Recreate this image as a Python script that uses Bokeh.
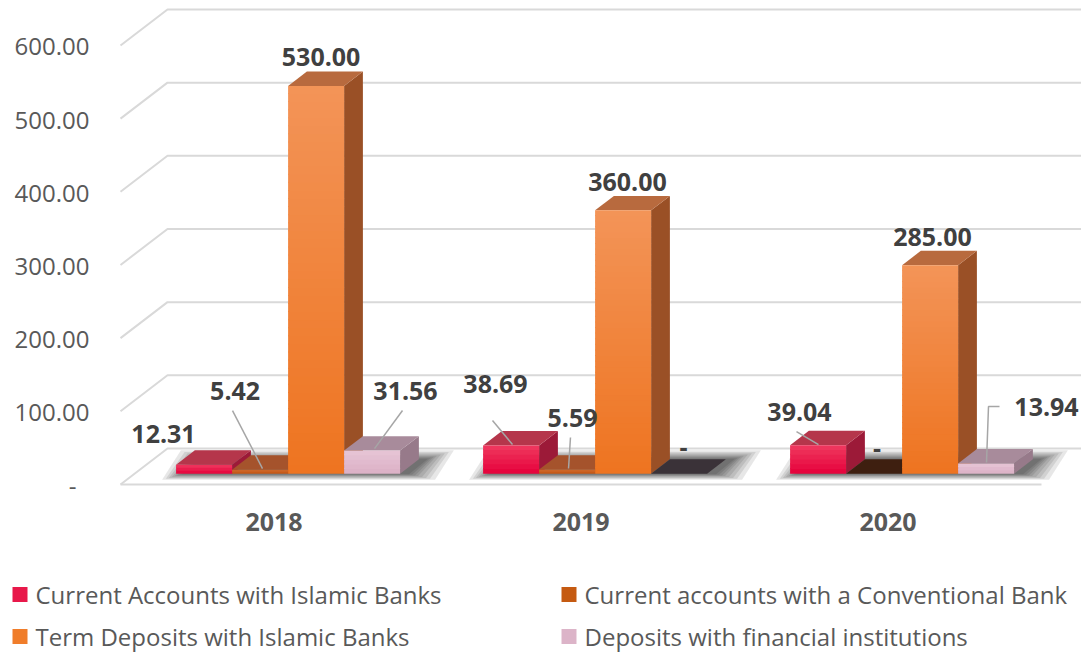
import numpy as np
from bokeh.plotting import figure
from bokeh.models import Range1d
from bokeh.core.properties import value
from bokeh.embed import file_html
from bokeh.resources import INLINE

# ---------------- data ----------------
years = ["2018", "2019", "2020"]
series_names = [
    "Current Accounts with Islamic Banks",
    "Current accounts with a Conventional Bank",
    "Term Deposits with Islamic Banks",
    "Deposits with financial institutions",
]
current_islamic = [12.31, 38.69, 39.04]
current_conventional = [5.42, 5.59, 0.0]
term_islamic = [530.00, 360.00, 285.00]
financial_inst = [31.56, 0.0, 13.94]
y_ticks = [0, 100, 200, 300, 400, 500, 600]

values = [current_islamic, current_conventional, term_islamic, financial_inst]

# ---------------- styles ----------------
styles = [
    dict(ftop="#f03a60", fbot="#e5003a", top="#b5364b", side="#9c1a38", zero="#3d1f24", key="#e8184a"),
    dict(ftop="#cf6a2e", fbot="#c45510", top="#a5532c", side="#8a3f14", zero="#3e1f10", key="#c55a11"),
    dict(ftop="#f39458", fbot="#ee7420", top="#b86a3e", side="#9a5026", zero="#3e2616", key="#f07d2a"),
    dict(ftop="#e7c5d6", fbot="#dbb0c5", top="#a88b9b", side="#977a8a", zero="#3a3238", key="#dcb4c8"),
]
FONT = value("Open Sans")
GRID_COLOR = "#d9d9d9"
TEXT_COLOR = "#595959"
LABEL_COLOR = "#404040"

# ---------------- geometry (pixel layout) ----------------
W, H = 1081, 654
PXX = 307.0        # px per category
PXY = 0.7317       # px per value unit
ORIGIN_X = 273.5   # canvas px of first category (front plane)
ORIGIN_Y = 484.0   # canvas px of value 0 (front plane)
DEPTH_X = 47 / PXX
DEPTH_Y = 36 / PXY
F0, F1 = 0.3, 0.7
BW = 56 / PXX


def dpx(dx, dy):
    """screen-pixel offset -> data offset"""
    return dx / PXX, -dy / PXY


def scr(sx, sy):
    """canvas pixel -> data coordinate"""
    return (sx - ORIGIN_X) / PXX, (ORIGIN_Y - sy) / PXY


p = figure(width=W, height=H, output_backend="svg", toolbar_location=None,
           x_range=Range1d(-ORIGIN_X / PXX, (W - ORIGIN_X) / PXX),
           y_range=Range1d(-(H - ORIGIN_Y) / PXY, ORIGIN_Y / PXY),
           x_axis_type=None, y_axis_type=None, min_border=0,
           title=None)
p.grid.visible = False
p.outline_line_color = None
p.background_fill_color = "white"
p.border_fill_color = "white"

ncat = len(years)
xl_floor, xr_floor = -0.5, ncat - 0.5

# ---------------- walls / gridlines ----------------
gx, gy = [], []
for t in y_ticks:
    gx.append([xl_floor, xl_floor + DEPTH_X, xr_floor + DEPTH_X])
    gy.append([t, t + DEPTH_Y, t + DEPTH_Y])
gx.append([xl_floor, xr_floor])
gy.append([0, 0])
p.multi_line(gx, gy, line_color=GRID_COLOR, line_width=2)

# ---------------- shadows ----------------
shx, shy = [], []
for i in range(ncat):
    xl = i - 2 * BW + F0 * DEPTH_X
    xr = i + 2 * BW + F0 * DEPTH_X
    yb = F0 * DEPTH_Y
    ddx, ddy = (F1 - F0) * DEPTH_X, (F1 - F0) * DEPTH_Y
    for e in [28, 23, 19, 15, 11, 8, 5, 2]:
        ex, _ = dpx(e, 0)
        exl, _ = dpx(e * 0.75, 0)
        sh, _ = dpx(7, 0)
        _, ey_f = dpx(0, e * 0.22)
        _, ey_b = dpx(0, -e * 0.32)
        shx.append([xl - exl + sh, xr + ex + sh, xr + ddx + ex + sh, xl + ddx - exl + sh])
        shy.append([yb + ey_f, yb + ey_f, yb + ddy + ey_b, yb + ddy + ey_b])
p.patches(shx, shy, fill_color="black", fill_alpha=0.095, line_color=None)


# ---------------- bars ----------------
def mix(c1, c2, t):
    a = np.array([int(c1[i:i + 2], 16) for i in (1, 3, 5)], float)
    b = np.array([int(c2[i:i + 2], 16) for i in (1, 3, 5)], float)
    c = a + (b - a) * t
    return "#%02x%02x%02x" % tuple(int(round(v)) for v in c)


NS = 48
overlap = dpx(0, -1.0)[1]
fx, fy, fc = [], [], []
for i in range(ncat):
    for k in range(len(values)):
        v = values[k][i]
        st = styles[k]
        xl = i + (k - 2) * BW + F0 * DEPTH_X
        xr = xl + BW
        yb = F0 * DEPTH_Y
        yt = yb + v
        ddx, ddy = (F1 - F0) * DEPTH_X, (F1 - F0) * DEPTH_Y
        if v <= 0:
            fx.append([xl, xr, xr + ddx, xl + ddx])
            fy.append([yb, yb, yb + ddy, yb + ddy])
            fc.append(st["zero"])
            continue
        # side
        fx.append([xr, xr + ddx, xr + ddx, xr])
        fy.append([yb, yb + ddy, yt + ddy, yt])
        fc.append(st["side"])
        # top
        fx.append([xl, xr, xr + ddx, xl + ddx])
        fy.append([yt, yt, yt + ddy, yt + ddy])
        fc.append(st["top"])
        # front with vertical gradient (top-down so each strip overlaps the one below)
        ns = max(2, min(NS, int(v / 8) + 2))
        for j in range(ns):
            b0 = yb + v * j / ns
            b1 = yb + v * (j + 1) / ns
            if j < ns - 1:
                b1 = min(b1 + overlap, yt)
            fx.append([xl, xr, xr, xl])
            fy.append([b0, b0, b1, b1])
            fc.append(mix(st["fbot"], st["ftop"], (j + 0.5) / ns))
p.patches(fx, fy, fill_color=fc, line_color=None)

# ---------------- data labels & leader lines ----------------
label_off = {
    (0, 0): (-40.6, -30.7), (0, 1): (-25, -79), (0, 2): (5, -28.4), (0, 3): (33.4, -60),
    (1, 0): (-15.6, -61), (1, 1): (5.4, -52), (1, 2): (4.4, -28), (1, 3): (4.4, -27),
    (2, 0): (-18.6, -33), (2, 1): (3, -26), (2, 2): (2.4, -27.7), (2, 3): (60.4, -56.5),
}
leaders = {
    (0, 1): [(-27.6, -59.2), (2.4, -1.2)],
    (0, 3): [(30.4, -40.1), (2.4, -2)],
    (1, 0): [(-18.6, -24.9), (1.4, -0.9)],
    (1, 1): [(3.4, -32.1), (1.4, -1.1)],
    (2, 0): [(-21.6, -13.6), (0.4, -0.6)],
    (2, 3): [(13.4, -57), (2.4, -57), (0.4, -1)],
}

lx, ly, lt = [], [], []
ldx, ldy = [], []
for i in range(ncat):
    for k in range(len(values)):
        v = values[k][i]
        cx = i + (k - 1.5) * BW + F0 * DEPTH_X
        cy = v + F0 * DEPTH_Y
        ox, oy = dpx(*label_off[(i, k)])
        lx.append(cx + ox)
        ly.append(cy + oy)
        lt.append("-" if v == 0 else f"{v:,.2f}")
        if (i, k) in leaders:
            pts = [dpx(a, b) for a, b in leaders[(i, k)]]
            ldx.append([cx + a for a, b in pts])
            ldy.append([cy + b for a, b in pts])

p.multi_line(ldx, ldy, line_color="#a6a6a6", line_width=1.5)
p.text(lx, ly, text=lt, text_font=FONT, text_font_size="25px", text_font_style="bold",
       text_color=LABEL_COLOR, text_align="center", text_baseline="middle")

# ---------------- value axis labels (front plane) ----------------
tx = [xl_floor + dpx(-44 if t == 0 else -31, 0)[0] for t in y_ticks]
ty = [t + dpx(0, 1.5)[1] for t in y_ticks]
tt = ["-" if t == 0 else f"{t:.2f}" for t in y_ticks]
p.text(tx, ty, text=tt, text_font=FONT, text_font_size="24px", text_color=TEXT_COLOR,
       text_align="right", text_baseline="middle")

# ---------------- category labels ----------------
cx_ = list(range(ncat))
cy_ = [dpx(0, 37)[1]] * ncat
p.text(cx_, cy_, text=years, text_font=FONT, text_font_size="25px", text_font_style="bold",
       text_color=TEXT_COLOR, text_align="center", text_baseline="middle")

# ---------------- legend ----------------
key_pos = [(12, 594), (561, 594), (12, 636), (561, 636)]
kl, kr, kb, ktp, kc = [], [], [], [], []
legx, legy = [], []
for k, (sx, sy) in enumerate(key_pos):
    x0, y0 = scr(sx, sy + 7.5)
    x1, y1 = scr(sx + 15, sy - 7.5)
    kl.append(x0); kr.append(x1); kb.append(y0); ktp.append(y1)
    kc.append(styles[k]["key"])
    tx0, ty0 = scr(sx + 23, sy)
    legx.append(tx0); legy.append(ty0)
p.quad(left=kl, right=kr, bottom=kb, top=ktp, fill_color=kc, line_color=None)
p.text(legx, legy, text=series_names, text_font=FONT, text_font_size="24px",
       text_color=TEXT_COLOR, text_align="left", text_baseline="middle")

open("out.html", "w").write(file_html(p, INLINE))
